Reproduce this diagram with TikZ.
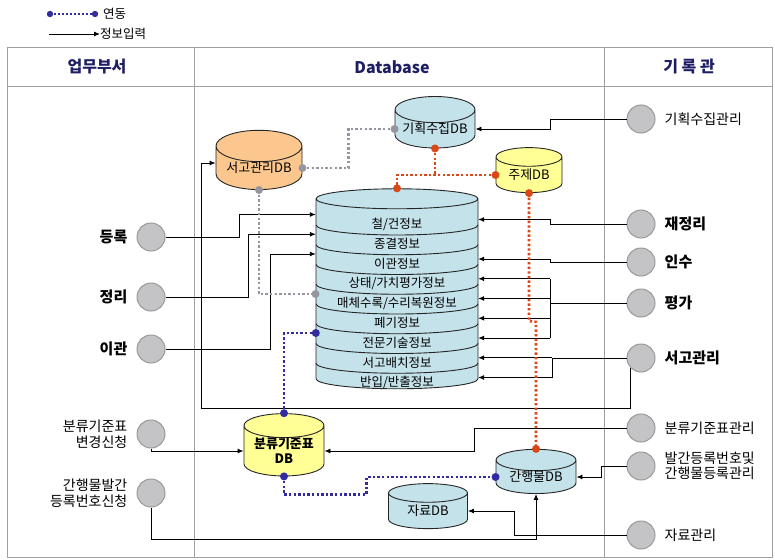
\documentclass[tikz,border=0pt]{standalone}
\usepackage{fontspec}
\setmainfont{Noto Sans CJK KR}
\usetikzlibrary{positioning,arrows.meta,shapes.geometric}

\definecolor{dbblue}{RGB}{196,226,234}
\definecolor{dborange}{RGB}{251,199,143}
\definecolor{dbyellow}{RGB}{255,255,150}
\definecolor{headnavy}{RGB}{30,30,100}
\definecolor{linkred}{RGB}{218,72,24}
\definecolor{linkblue}{RGB}{50,44,160}
\definecolor{linkgrey}{RGB}{150,150,160}
\definecolor{framegrey}{RGB}{160,160,160}
\definecolor{unitgrey}{RGB}{196,196,198}

\begin{document}
\begin{tikzpicture}[
  x=1pt,y=-1pt,
  font=\fontsize{14}{15.5}\selectfont,
  node distance=9pt,
  db/.style={cylinder,shape border rotate=90,draw=black!85,line width=0.9pt,inner sep=0pt,font=\fontsize{13}{15}\selectfont},
  unit/.style={circle,draw=gray!80,fill=unitgrey,line width=1pt,minimum size=28pt,inner sep=0pt},
  lbl/.style={inner sep=0pt},
  lblb/.style={inner sep=0pt,font=\fontsize{15}{16}\selectfont\bfseries},
  layer/.style={inner sep=0pt,minimum width=162pt,minimum height=19pt,font=\fontsize{12.5}{14}\selectfont},
  head/.style={font=\fontsize{16}{18}\selectfont\bfseries,text=headnavy},
  frame/.style={draw=framegrey,line width=1pt},
  conn/.style={line width=0.9pt},
  arr/.style={conn,-{Latex[length=6pt,width=5pt]}},
  link/.style={line width=2.6pt,dash pattern=on 2.4pt off 2.2pt}
]
\useasboundingbox (0,0) rectangle (775,559);

% table frame and headers
\draw[frame] (7,48) rectangle (772,557);
\draw[frame] (7,87) -- (772,87) (194,48) -- (194,557) (604,48) -- (604,557);
\node[head] (hdept) at (97,67) {업무부서};
\node[head] (hdb) at (392,67) {Database};
\node[head] (harch) at (689,67) {기 록 관};

% legend
\coordinate (lglinkS) at (50,14);
\node[lbl,anchor=west,font=\fontsize{12.5}{14}\selectfont] (lglink) at (103,14) {연동};
\draw[linkblue,line width=2pt,dash pattern=on 2pt off 2pt] (lglinkS) -- ([xshift=-8pt]lglink.west);
\fill[linkblue] (lglinkS) circle[radius=3.2pt] ([xshift=-8pt]lglink.west) circle[radius=3.2pt];
\coordinate (lginputS) at (49,34);
\node[lbl,anchor=west,font=\fontsize{12.5}{14}\selectfont] (lginput) at (100,34) {정보입력};
\draw[arr] (lginputS) -- (lginput.west);

% databases
\node[db,fill=dbblue,aspect=0.125,text width=160pt,minimum width=162pt,minimum height=200pt] (bigdb) at (397,294) {};
\node[db,fill=dborange,aspect=0.48,minimum width=86pt,minimum height=56pt] (sgdb) at (259,168) {서고관리DB};
\node[db,fill=dbblue,aspect=0.4,minimum width=80pt,minimum height=46pt] (gsdb) at (435,129) {기획수집DB};
\node[db,fill=dbyellow,aspect=0.45,minimum width=66pt,minimum height=45pt] (jjdb) at (529,175) {주제DB};
\node[db,fill=dbyellow,aspect=0.4,minimum width=80pt,minimum height=58pt,align=center,font=\fontsize{13}{15}\selectfont\bfseries] (bkdb) at (284,451) {분류기준표\\DB};
\node[db,fill=dbblue,aspect=0.4,minimum width=80pt,minimum height=43pt] (ghdb) at (536,477) {간행물DB};
\node[db,fill=dbblue,aspect=0.45,minimum width=79pt,minimum height=45pt] (jrdb) at (428,511) {자료DB};

% layers of the main database
\foreach \t [count=\k] in {철/건정보,종결정보,이관정보,상태/가치평가정보,매체수록/수리복원정보,폐기정보,전문기술정보,서고배치정보,반입/반출정보}{
  \node[layer] (lay\k) at (397,{224.5+19.75*(\k-1)}) {\t};
  \coordinate (inL\k) at ([yshift=10pt]lay\k.west);
  \coordinate (inR\k) at ([yshift=5pt]lay\k.east);
}
\foreach \k in {1,...,8}
  \draw[conn,black!85] (316,{205.25+19.75*\k}) arc[start angle=180,end angle=360,x radius=81pt,y radius=10pt];

% departments
\node[unit] (reg) at (151,237) {};
\node[lblb,left=of reg] (regl) {등록};
\node[unit] (tidy) at (151,297) {};
\node[lblb,left=of tidy] (tidyl) {정리};
\node[unit] (trans) at (151,349) {};
\node[lblb,left=of trans] (transl) {이관};
\node[unit] (chg) at (151,434) {};
\node[lbl,left=of chg,align=right] (chgl) {분류기준표\\변경신청};
\node[unit] (pubreq) at (151,493) {};
\node[lbl,left=of pubreq,align=right] (pubreql) {간행물발간\\등록번호신청};

% archive
\node[unit] (plan) at (641,119) {};
\node[lbl,right=of plan] (planl) {기획수집관리};
\node[unit] (resort) at (641,224) {};
\node[lblb,right=of resort] (resortl) {재정리};
\node[unit] (accept) at (641,262) {};
\node[lblb,right=of accept] (acceptl) {인수};
\node[unit] (appr) at (641,303) {};
\node[lblb,right=of appr] (apprl) {평가};
\node[unit] (stor) at (641,358) {};
\node[lblb,right=of stor] (storl) {서고관리};
\node[unit] (clsm) at (641,428) {};
\node[lbl,right=of clsm] (clsml) {분류기준표관리};
\node[unit] (pubm) at (641,466) {};
\node[lbl,right=of pubm,align=left] (pubml) {발간등록번호및\\간행물등록관리};
\node[unit] (matm) at (641,535) {};
\node[lbl,right=of matm] (matml) {자료관리};

% information input
\draw[arr] (reg.east) -| ([xshift=-76pt]inL1) -- (inL1);
\draw[arr] (tidy.east) -| ([xshift=-67pt]inL2) -- (inL2);
\draw[arr] (trans.east) -| ([xshift=-45pt]inL3) -- (inL3);
\draw[arr] (chg.south) |- (bkdb.west);
\draw[arr] (pubreq.south) |- ([yshift=-45pt]ghdb.south) -- (ghdb.south);

\draw[arr] (plan.west) -| ([xshift=75pt]gsdb.east) -- (gsdb.east);
\draw[arr] (resort.west) -| ([xshift=72pt]inR1) -- (inR1);
\draw[arr] (accept.west) -| ([xshift=72pt]inR3) -- (inR3);
\coordinate (apprbar) at ([xshift=72pt]inR4);
\draw[conn] (appr.west) -- (appr.west -| apprbar) (apprbar) -- (apprbar |- inR7);
\foreach \k in {4,...,7} \draw[arr] (apprbar |- inR\k) -- (inR\k);
\coordinate (storbar) at ([xshift=74pt]inR8);
\draw[conn] (stor.west) -- (stor.west -| storbar) (storbar) -- (storbar |- inR9);
\foreach \k in {8,9} \draw[arr] (storbar |- inR\k) -- (inR\k);
\draw[arr] (stor.225) -- ++(0,40) -| ([xshift=-14pt,yshift=5pt]sgdb.west) -- ([yshift=5pt]sgdb.west);
\draw[arr] (clsm.west) -| ([xshift=150pt]bkdb.east) -- (bkdb.east);
\draw[arr] (pubm.west) -| ([xshift=25pt]ghdb.east) -- (ghdb.east);
\draw[arr] (matm.west) -| ([xshift=46pt]jrdb.east) -- (jrdb.east);

% links
\draw[link,linkgrey] (sgdb.east) -| ([xshift=-46pt]gsdb.west) -- (gsdb.west);
\draw[link,linkgrey] (sgdb.south) |- (bigdb.west);
\draw[link,linkred] (gsdb.south) -- (gsdb.south |- jjdb.west);
\draw[link,linkred] (jjdb.west) -| (bigdb.north);
\draw[link,linkred] (jjdb.south) -- ++(0,128) -- ([yshift=127pt]ghdb.north) -- (ghdb.north);
\draw[link,linkblue] (bkdb.north) |- (inL7);
\draw[link,linkblue] (bkdb.south) -- ++(0,18) -| ([xshift=-129pt]ghdb.west) -- (ghdb.west);
\foreach \p in {sgdb.east,gsdb.west,sgdb.south,bigdb.west} \fill[linkgrey] (\p) circle[radius=4pt];
\foreach \p in {gsdb.south,jjdb.west,bigdb.north,jjdb.south,ghdb.north} \fill[linkred] (\p) circle[radius=4pt];
\foreach \p in {bkdb.north,inL7,bkdb.south,ghdb.west} \fill[linkblue] (\p) circle[radius=4pt];
\end{tikzpicture}
\end{document}
